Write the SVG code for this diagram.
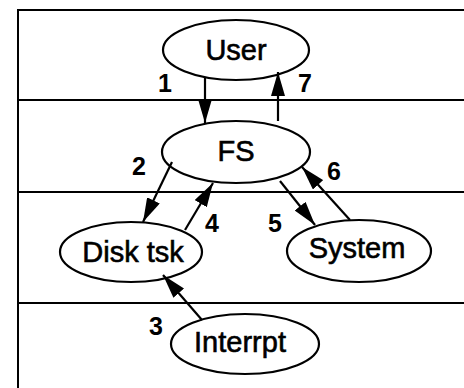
<svg xmlns="http://www.w3.org/2000/svg" width="464" height="388" viewBox="0 0 464 388">
  <defs>
    <marker id="head" markerUnits="userSpaceOnUse" markerWidth="24" markerHeight="14" refX="24" refY="7" orient="auto">
      <path d="M0,0 L24,7 L0,14 z" fill="#000"/>
    </marker>
    <style>
      .frame { stroke: #000; stroke-width: 2; fill: none; }
      .node ellipse { fill: #fff; stroke: #000; stroke-width: 2.2; }
      .node text { font-family: "Liberation Sans", Arial, sans-serif; font-size: 29px; fill: #000; stroke: #000; stroke-width: 0.6; text-anchor: middle; }
      .edge { stroke: #000; stroke-width: 2.2; fill: none; marker-end: url(#head); }
      .num { font-family: "Liberation Sans", Arial, sans-serif; font-size: 25px; font-weight: bold; fill: #000; text-anchor: middle; }
    </style>
  </defs>

  <rect width="464" height="388" fill="#fff"/>

  <!-- layer bands -->
  <g id="layers">
    <line class="frame" x1="18" y1="10" x2="464" y2="10"/>
    <line class="frame" x1="18" y1="100" x2="464" y2="100"/>
    <line class="frame" x1="18" y1="192" x2="464" y2="192"/>
    <line class="frame" x1="18" y1="303" x2="464" y2="303"/>
    <line class="frame" x1="18" y1="9" x2="18" y2="388" stroke-width="3"/>
  </g>

  <g id="user" class="node">
    <ellipse cx="236" cy="50" rx="73" ry="30"/>
    <text x="236" y="60">User</text>
  </g>
  <g id="fs" class="node">
    <ellipse cx="236" cy="152" rx="74" ry="31"/>
    <text x="236" y="161">FS</text>
  </g>
  <g id="disk" class="node">
    <ellipse cx="131" cy="252" rx="71" ry="30"/>
    <text x="133" y="262">Disk tsk</text>
  </g>
  <g id="system" class="node">
    <ellipse cx="359" cy="251" rx="72" ry="31"/>
    <text x="357" y="258">System</text>
  </g>
  <g id="interrupt" class="node">
    <ellipse cx="245" cy="344" rx="74" ry="30"/>
    <text x="240" y="352">Interrpt</text>
  </g>

  <g id="connectors">
    <line class="edge" x1="205" y1="77" x2="205" y2="123"/>
    <line class="edge" x1="278" y1="121" x2="278" y2="72"/>
    <line class="edge" x1="172" y1="162" x2="143" y2="222"/>
    <line class="edge" x1="185" y1="230" x2="213" y2="183"/>
    <line class="edge" x1="280" y1="181" x2="315" y2="225"/>
    <line class="edge" x1="350" y1="220" x2="302" y2="167"/>
    <line class="edge" x1="202" y1="320" x2="163" y2="275"/>
  </g>

  <g id="step-numbers">
    <text class="num" x="165" y="92">1</text>
    <text class="num" x="305" y="92">7</text>
    <text class="num" x="139" y="175">2</text>
    <text class="num" x="334" y="180">6</text>
    <text class="num" x="212" y="232">4</text>
    <text class="num" x="275" y="232">5</text>
    <text class="num" x="156" y="335">3</text>
  </g>
</svg>
